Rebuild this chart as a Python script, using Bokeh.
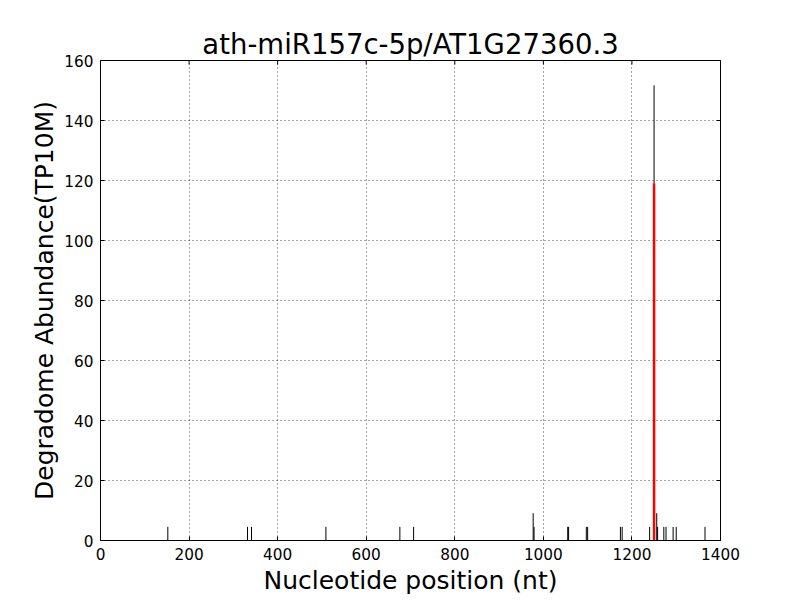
import math
from bokeh.plotting import figure
from bokeh.models import Range1d, FixedTicker, ColumnDataSource
from bokeh.embed import file_html
from bokeh.resources import INLINE

title = "ath-miR157c-5p/AT1G27360.3"
x_label = "Nucleotide position (nt)"
y_label = "Degradome Abundance(TP10M)"

# degradome reads (black)
positions = [152, 332, 341, 509, 676, 707, 977, 979, 1055, 1057, 1097, 1100,
             1174, 1178, 1240, 1250, 1256, 1258, 1272, 1277, 1293, 1300, 1365]
abundance = [4.55, 4.55, 4.55, 4.55, 4.55, 4.55, 9.1, 4.55, 4.55, 4.55, 4.55, 4.55,
             4.55, 4.55, 4.55, 151.7, 9.1, 4.55, 4.55, 4.55, 4.55, 4.55, 4.55]

# predicted cleavage site (red)
site_position = [1250]
site_abundance = [119.0]

x_ticks = [0, 200, 400, 600, 800, 1000, 1200, 1400]
y_ticks = [0, 20, 40, 60, 80, 100, 120, 140, 160]
x_min, x_max = 0, 1400
y_min, y_max = 0, 160

FONT = "DejaVu Sans"

p = figure(
    frame_width=620, frame_height=480,
    min_border_left=100, min_border_right=72, min_border_top=60, min_border_bottom=40,
    output_backend="svg", toolbar_location=None,
    x_range=Range1d(x_min, x_max), y_range=Range1d(y_min, y_max),
    title=title,
)
p.title.align = "center"
p.title.text_font = FONT
p.title.text_font_size = "27.5px"
p.title.text_font_style = "normal"
p.title.text_color = "black"
p.title.standoff = 2

p.outline_line_color = "black"
p.outline_line_width = 1
p.background_fill_color = "white"
p.border_fill_color = "white"

for ax in (p.xaxis[0], p.yaxis[0]):
    ax.axis_label_text_font = FONT
    ax.axis_label_text_font_size = "25px"
    ax.axis_label_text_font_style = "normal"
    ax.axis_label_text_color = "black"
    ax.major_label_text_font = FONT
    ax.major_label_text_font_size = "15.3px"
    ax.major_label_text_color = "black"
    ax.major_tick_in = 4
    ax.major_tick_out = 0
    ax.minor_tick_line_color = None
    ax.axis_line_color = "black"
    ax.major_tick_line_color = "black"
    ax.major_label_standoff = 7

p.xaxis[0].axis_label = x_label
p.yaxis[0].axis_label = y_label
p.xaxis[0].ticker = FixedTicker(ticks=x_ticks)
p.yaxis[0].ticker = FixedTicker(ticks=y_ticks)
p.xaxis[0].axis_label_standoff = 3
p.yaxis[0].axis_label_standoff = 2

p.xgrid.ticker = FixedTicker(ticks=x_ticks)
p.ygrid.ticker = FixedTicker(ticks=y_ticks)
for g in (p.xgrid[0], p.ygrid[0]):
    g.grid_line_color = "black"
    g.grid_line_dash = "1 3"
    g.grid_line_width = 1
    g.grid_line_alpha = 0.7

# inward ticks on top and right edges (classic style), half clipped by the frame
p.scatter(x=x_ticks, y=[y_max] * len(x_ticks), marker="dash", angle=math.pi / 2,
          size=8, line_color="black", line_width=1)
p.scatter(x=[x_max] * len(y_ticks), y=y_ticks, marker="dash", angle=0,
          size=8, line_color="black", line_width=1)

src = ColumnDataSource(dict(x=positions, y0=[0] * len(positions), y1=abundance))
p.segment(x0="x", y0="y0", x1="x", y1="y1", source=src, line_color="black", line_width=1)

src2 = ColumnDataSource(dict(x=site_position, y0=[0] * len(site_position), y1=site_abundance))
p.segment(x0="x", y0="y0", x1="x", y1="y1", source=src2, line_color="red", line_width=2.5)

open("out.html", "w").write(file_html(p, INLINE))
